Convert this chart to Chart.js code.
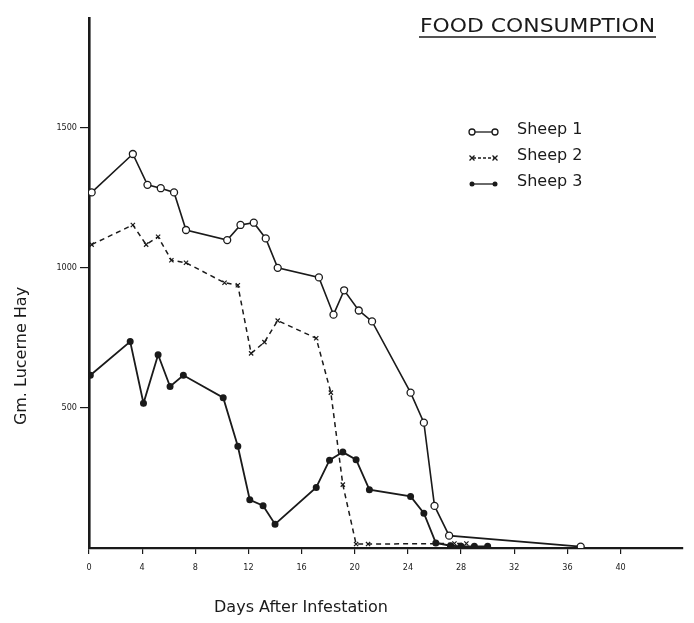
<!DOCTYPE html>
<html lang="en">
<head>
<meta charset="UTF-8">
<title>Food Consumption</title>
<script src="https://cdn.jsdelivr.net/npm/chart.js"></script>
<style>
  html, body { margin: 0; padding: 0; background: #fff; }
  #wrap { width: 694px; height: 623px; }
</style>
</head>
<body>
<div id="wrap"><canvas id="foodChart" width="694" height="623"></canvas></div>
<script>
// values (days after infestation, grams of lucerne hay)
const sheep1Days = [0.2, 3.3, 4.4, 5.4, 6.4, 7.3, 10.4, 11.4, 12.4, 13.3, 14.2, 17.3, 18.4, 19.2, 20.3, 21.3, 24.2, 25.2, 26.0, 27.1, 37.0];
const sheep1Hay  = [1268, 1405, 1295, 1283, 1268, 1134, 1098, 1152, 1160, 1104, 999, 965, 832, 919, 847, 808, 554, 447, 150, 44, 5];

const sheep2Days = [0.2, 3.3, 4.3, 5.2, 6.2, 7.3, 10.2, 11.2, 12.2, 13.2, 14.2, 17.1, 18.2, 19.1, 20.1, 21.0, 27.5, 28.4];
const sheep2Hay  = [1082, 1152, 1082, 1110, 1026, 1017, 946, 937, 694, 734, 811, 748, 554, 226, 14, 14, 16, 16];

const sheep3Days = [0.1, 3.1, 4.1, 5.2, 6.1, 7.1, 10.1, 11.2, 12.1, 13.1, 14.0, 17.1, 18.1, 19.1, 20.1, 21.1, 24.2, 25.2, 26.1, 27.2, 28.0, 29.0, 30.0];
const sheep3Hay  = [616, 736, 516, 689, 576, 616, 536, 363, 172, 151, 85, 216, 313, 342, 315, 208, 184, 124, 18, 8, 6, 6, 6];

const xTickVals = [0, 4, 8, 12, 16, 20, 24, 28, 32, 36, 40];
const yTickVals = [500, 1000, 1500];

const seriesNames = ['Sheep 1', 'Sheep 2', 'Sheep 3'];
const chartTitle = 'FOOD CONSUMPTION';
const xTitle = 'Days After Infestation';
const yTitle = 'Gm. Lucerne Hay';

const ink = '#1a1a1a';
const narrow = "'DejaVu Sans Condensed', 'Liberation Sans Narrow', 'DejaVu Sans', sans-serif";

function pts(xs, ys) {
  return xs.map((x, i) => ({ x: x, y: ys[i] }));
}

// title, legend and axis titles drawn on top of the chart
const annotations = {
  id: 'annotations',
  afterDraw(chart) {
    const c = chart.ctx;
    c.save();
    c.fillStyle = ink;
    c.strokeStyle = ink;

    // title, stretched to the width it has in the picture, with underline
    c.font = "20px 'DejaVu Sans', sans-serif";
    c.textBaseline = 'alphabetic';
    c.textAlign = 'left';
    const tw = c.measureText(chartTitle).width;
    c.save();
    c.translate(420, 32);
    c.scale(235 / tw, 1);
    c.fillText(chartTitle, 0, 0);
    c.restore();
    c.lineWidth = 1.6;
    c.beginPath();
    c.moveTo(419, 37);
    c.lineTo(656, 37);
    c.stroke();

    // legend
    const rows = [130, 156, 182];
    c.font = "16px 'DejaVu Sans', sans-serif";
    c.textBaseline = 'middle';
    rows.forEach((y, i) => {
      const sy = y + 2;
      c.lineWidth = 1.3;
      c.setLineDash(i === 1 ? [3, 2] : []);
      c.beginPath();
      c.moveTo(473, sy);
      c.lineTo(494, sy);
      c.stroke();
      c.setLineDash([]);
      [472, 495].forEach(px => {
        c.beginPath();
        if (i === 0) {
          c.fillStyle = '#fff';
          c.arc(px, sy, 3, 0, Math.PI * 2);
          c.fill();
          c.stroke();
        } else if (i === 1) {
          c.moveTo(px - 2.5, sy - 2.5); c.lineTo(px + 2.5, sy + 2.5);
          c.moveTo(px + 2.5, sy - 2.5); c.lineTo(px - 2.5, sy + 2.5);
          c.stroke();
        } else {
          c.fillStyle = ink;
          c.arc(px, sy, 2.5, 0, Math.PI * 2);
          c.fill();
        }
      });
      c.fillStyle = ink;
      c.fillText(seriesNames[i], 517, y);
    });

    // axis titles
    c.font = "16px 'DejaVu Sans', sans-serif";
    c.textAlign = 'center';
    c.fillText(xTitle, 301, 608);
    c.translate(22, 356);
    c.rotate(-Math.PI / 2);
    c.fillText(yTitle, 0, 0);
    c.restore();
  }
};

const ctx = document.getElementById('foodChart').getContext('2d');
new Chart(ctx, {
  type: 'scatter',
  data: {
    datasets: [
      {
        label: seriesNames[0],
        data: pts(sheep1Days, sheep1Hay),
        showLine: true,
        borderColor: ink,
        borderWidth: 1.6,
        pointStyle: 'circle',
        pointRadius: 3.5,
        pointBackgroundColor: '#fff',
        pointBorderColor: ink,
        pointBorderWidth: 1.3
      },
      {
        label: seriesNames[1],
        data: pts(sheep2Days, sheep2Hay),
        showLine: true,
        borderColor: ink,
        borderWidth: 1.5,
        borderDash: [5, 4],
        pointStyle: 'crossRot',
        pointRadius: 3,
        pointBorderColor: ink,
        pointBorderWidth: 1.2
      },
      {
        label: seriesNames[2],
        data: pts(sheep3Days, sheep3Hay),
        showLine: true,
        borderColor: ink,
        borderWidth: 1.8,
        pointStyle: 'circle',
        pointRadius: 2.6,
        pointBackgroundColor: ink,
        pointBorderColor: ink
      }
    ]
  },
  options: {
    responsive: false,
    animation: false,
    layout: { padding: { top: 18, right: 11, left: 0, bottom: 0 } },
    plugins: {
      legend: { display: false },
      tooltip: { enabled: false },
      title: { display: false }
    },
    scales: {
      x: {
        type: 'linear',
        min: 0,
        max: 44.7,
        afterBuildTicks: s => { s.ticks = xTickVals.map(v => ({ value: v })); },
        afterFit: s => { s.height = 75; },
        border: { display: true, color: ink, width: 2.2 },
        grid: { display: true, drawOnChartArea: false, drawTicks: true, tickLength: 6, color: ink, lineWidth: 1.2 },
        ticks: { color: ink, padding: 8, maxRotation: 0, font: { size: 9, family: narrow }, callback: v => String(v) }
      },
      y: {
        type: 'linear',
        min: 0,
        max: 1890,
        afterBuildTicks: s => { s.ticks = yTickVals.map(v => ({ value: v })); },
        afterFit: s => { s.width = 89; },
        border: { display: true, color: ink, width: 2.6 },
        grid: { display: true, drawOnChartArea: false, drawTicks: true, tickLength: 9, color: ink, lineWidth: 1.2 },
        ticks: { color: ink, padding: 3, font: { size: 9, family: narrow }, callback: v => String(v) }
      }
    }
  },
  plugins: [annotations]
});
</script>
</body>
</html>
